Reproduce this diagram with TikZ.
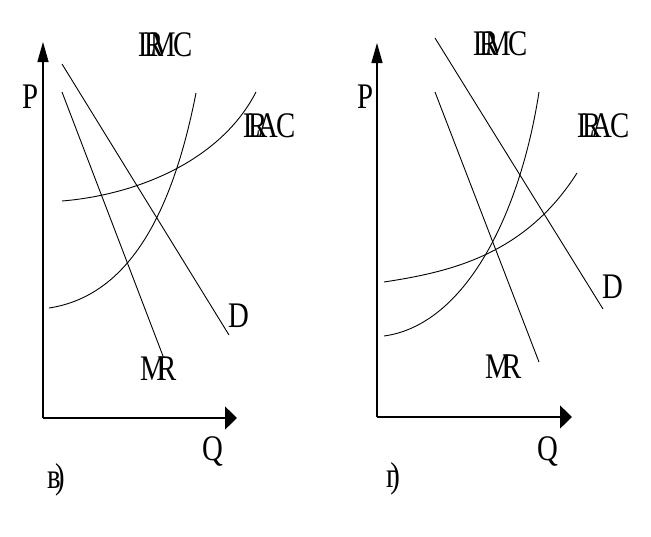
\documentclass[tikz,border=0pt]{standalone}
\usepackage{fontspec}
\setmainfont{Liberation Serif}
\newfontfamily\lblfont[FakeStretch=0.8]{Liberation Serif}
\usetikzlibrary{arrows.meta}
\newcommand{\kk}[1]{\kern#1pt\relax}
\begin{document}
\begin{tikzpicture}[x=1pt,y=-1pt,
  lbl/.style={inner sep=0pt,anchor=base west,font=\lblfont\fontsize{36}{42}\selectfont},
  curve/.style={line width=0.9pt},
  yaxis/.style={line width=1.3pt,-{Triangle[length=20pt,width=11pt]}},
  xaxis/.style={line width=1.3pt,-{Triangle[length=12pt,width=23pt]}}]
\useasboundingbox (0,0) rectangle (651,536);
% ---------- left panel (v) ----------
\coordinate (O1) at (43,418);
\coordinate (Y1) at (43,42);
\coordinate (X1) at (237,418);
\draw[yaxis] (O1) -- (Y1);
\draw[xaxis] (O1) -- (X1);
\coordinate (D1a) at (62,64);   \coordinate (D1b) at (229,335);
\coordinate (M1a) at (62,92);   \coordinate (M1b) at (163,356);
\coordinate (C1a) at (49,308);  \coordinate (C1b) at (196,93);
\coordinate (A1a) at (62,201);  \coordinate (A1b) at (256,92);
\draw[curve] (D1a) -- (D1b);
\draw[curve] (M1a) -- (M1b);
\draw[curve] (C1a) .. controls (135,295) and (175,200) .. (C1b);
\draw[curve] (A1a) .. controls (135,195) and (220,162) .. (A1b);
\node[lbl] (lrmc1) at (138,56) {L\kk{-11.6}R\kk{-13.2}M\kk{-2.6}C};
\node[lbl] (lrac1) at (243,137) {L\kk{-12.6}R\kk{-10.2}A\kk{-1.8}C};
\node[lbl] (d1) at (228,327) {D};
\node[lbl] (mr1) at (140,380) {M\kk{-8.6}R};
\node[lbl] (q1) at (202,460) {Q};
\node[lbl] (p1) at (22,108) {P};
\node[lbl] (v1) at (47,488) {в\kk{-5.6})};
% ---------- right panel (g) ----------
\coordinate (O2) at (377,417);
\coordinate (Y2) at (377,43);
\coordinate (X2) at (572,417);
\draw[yaxis] (O2) -- (Y2);
\draw[xaxis] (O2) -- (X2);
\coordinate (D2a) at (435,38);  \coordinate (D2b) at (603,309);
\coordinate (M2a) at (435,92);  \coordinate (M2b) at (539,362);
\coordinate (C2a) at (384,336); \coordinate (C2b) at (539,92);
\coordinate (A2a) at (384,282); \coordinate (A2b) at (577,173);
\draw[curve] (D2a) -- (D2b);
\draw[curve] (M2a) -- (M2b);
\draw[curve] (C2a) .. controls (465,325) and (520,215) .. (C2b);
\draw[curve] (A2a) .. controls (450,272) and (525,255) .. (A2b);
\node[lbl] (lrmc2) at (473,55) {L\kk{-11.6}R\kk{-13.2}M\kk{-2.6}C};
\node[lbl] (lrac2) at (577,137) {L\kk{-12.6}R\kk{-10.2}A\kk{-1.8}C};
\node[lbl] (d2) at (602,298) {D};
\node[lbl] (mr2) at (485,378) {M\kk{-8.6}R};
\node[lbl] (q2) at (537,460) {Q};
\node[lbl] (p2) at (357,108) {P};
\node[lbl] (g2) at (386,487) {г\kk{-7.7})};
\end{tikzpicture}
\end{document}
